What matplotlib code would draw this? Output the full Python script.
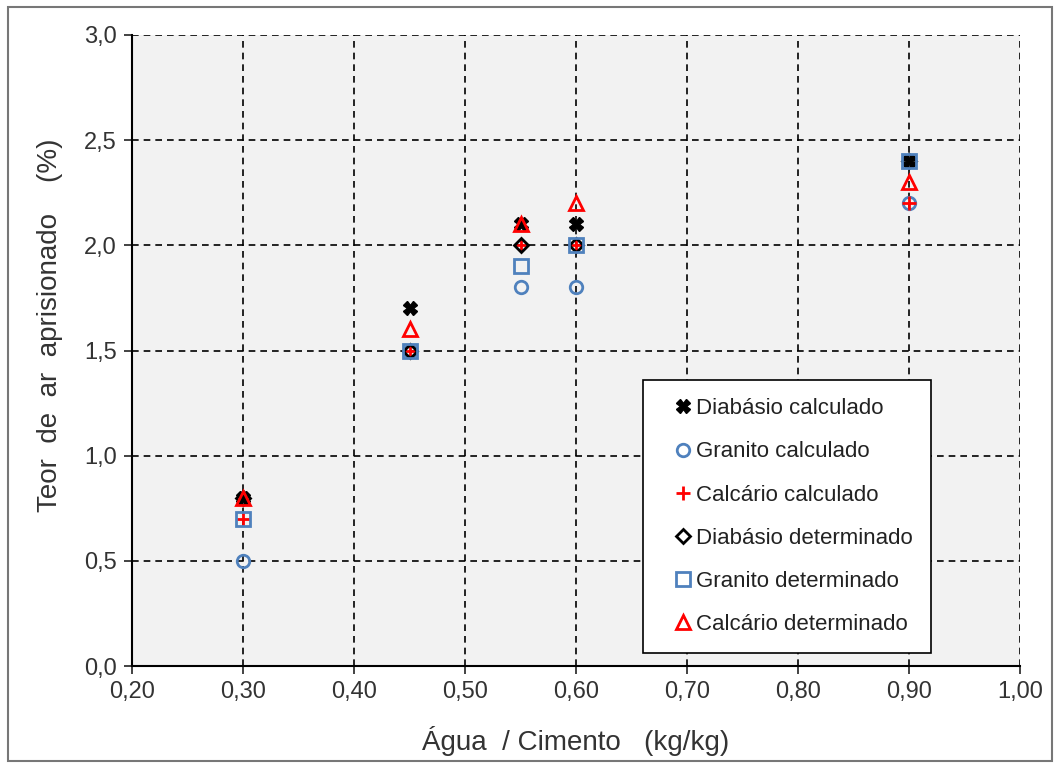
import matplotlib.pyplot as plt
from matplotlib.ticker import FuncFormatter, MultipleLocator
from matplotlib.patches import Rectangle

plt.rcParams['font.family'] = ['Liberation Sans', 'DejaVu Sans']

# relação água/cimento
agua_cimento = [0.30, 0.45, 0.55, 0.60, 0.90]

diabasio_calc = [0.8, 1.7, 2.1, 2.1, 2.4]
granito_calc = [0.5, 1.5, 1.8, 1.8, 2.2]
calcario_calc = [0.7, 1.5, 2.0, 2.0, 2.2]
diabasio_det = [0.8, 1.5, 2.0, 2.0, 2.4]
granito_det = [0.7, 1.5, 1.9, 2.0, 2.4]
calcario_det = [0.8, 1.6, 2.1, 2.2, 2.3]

azul = '#4f81bd'
vermelho = '#ff0000'

fig = plt.figure(figsize=(10.6, 7.65), dpi=100)
ax = fig.add_axes([132 / 1060, 1 - 666 / 765, 888 / 1060, 631 / 765])
ax.set_facecolor('#f2f2f2')

ax.plot(agua_cimento, diabasio_calc, 'X', color='black', markersize=10,
        label='Diabásio calculado', zorder=3)
ax.plot(agua_cimento, granito_calc, 'o', color=azul, markerfacecolor='none',
        markersize=9, markeredgewidth=2, label='Granito calculado', zorder=3)
ax.plot(agua_cimento, calcario_calc, '+', color=vermelho, markersize=10,
        markeredgewidth=2, label='Calcário calculado', zorder=3)
ax.plot(agua_cimento, diabasio_det, 'D', color='black', markerfacecolor='none',
        markersize=7, markeredgewidth=2, label='Diabásio determinado', zorder=3)
ax.plot(agua_cimento, granito_det, 's', color=azul, markerfacecolor='none',
        markersize=10, markeredgewidth=2, label='Granito determinado', zorder=3)
ax.plot(agua_cimento, calcario_det, '^', color=vermelho, markerfacecolor='none',
        markersize=10, markeredgewidth=2, label='Calcário determinado', zorder=3)

ax.set_xlim(0.2, 1.0)
ax.set_ylim(0, 3.0)
ax.xaxis.set_major_locator(MultipleLocator(0.1))
ax.yaxis.set_major_locator(MultipleLocator(0.5))
ax.xaxis.set_major_formatter(FuncFormatter(lambda v, p: f'{v:.2f}'.replace('.', ',')))
ax.yaxis.set_major_formatter(FuncFormatter(lambda v, p: f'{v:.1f}'.replace('.', ',')))
ax.tick_params(labelsize=17, direction='out', length=6, width=1.2, colors='#222222',
               labelcolor='#333333', pad=5)

ax.grid(True, color='black', linestyle=(0, (4, 3)), linewidth=1.2)
ax.set_axisbelow(True)
for s in ['top', 'right']:
    ax.spines[s].set_visible(False)
for s in ['left', 'bottom']:
    ax.spines[s].set_linewidth(1.5)
    ax.spines[s].set_color('black')

ax.set_xlabel('Água  / Cimento   (kg/kg)', fontsize=20, color='#333333', labelpad=16)
ax.set_ylabel('Teor  de  ar  aprisionado    (%)', fontsize=20, color='#333333')
ax.yaxis.set_label_coords(-0.078, 0.54)

leg = ax.legend(loc='lower left', bbox_to_anchor=((643 - 132) / 888, (666 - 653) / 631),
                fontsize=16, frameon=True, fancybox=False, handlelength=2.0,
                handletextpad=-0.4, labelspacing=1.0, borderpad=0.8, borderaxespad=0)
leg.get_frame().set_edgecolor('black')
leg.get_frame().set_linewidth(1.2)
leg.get_frame().set_alpha(1)
leg.set_zorder(5)
for t in leg.get_texts():
    t.set_color('#222222')

fig.patches.append(Rectangle((8 / 1060, 4 / 765), 1044 / 1060, 754 / 765,
                             transform=fig.transFigure, fill=False,
                             edgecolor='#777777', linewidth=1.5))

fig.savefig('out.png', dpi=100)
